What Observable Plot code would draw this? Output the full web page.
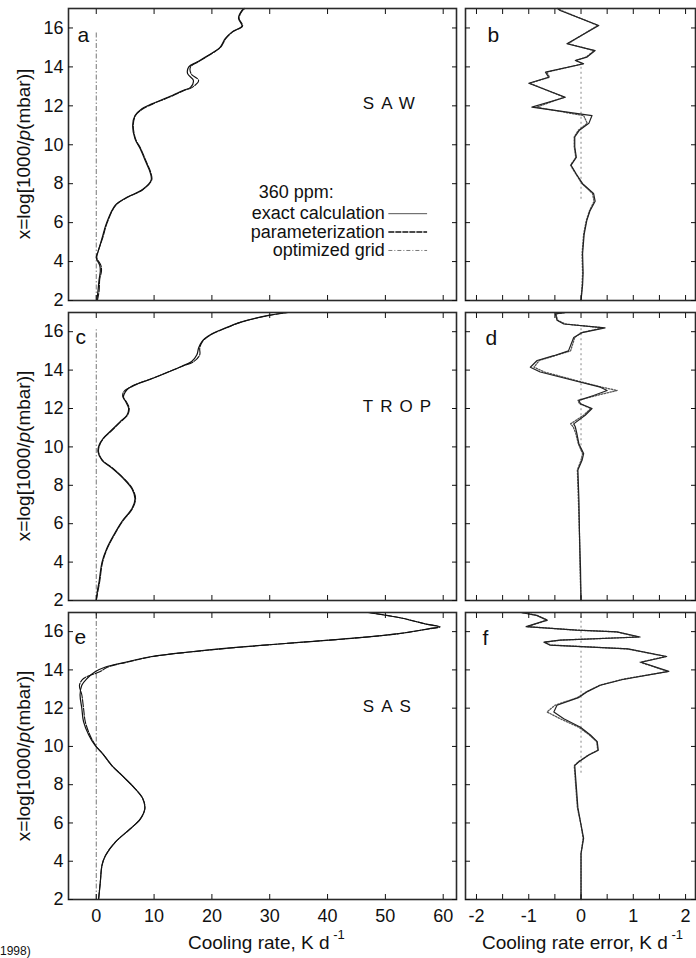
<!DOCTYPE html>
<html>
<head>
<meta charset="utf-8">
<script src="https://cdn.jsdelivr.net/npm/d3@7"></script>
<script src="https://cdn.jsdelivr.net/npm/@observablehq/plot@0.6"></script>
<style>
html, body { margin: 0; padding: 0; background: #fff; }
#fig { position: relative; width: 696px; height: 958px; overflow: hidden;
  font-family: "Liberation Sans", Arial, Helvetica, sans-serif; color: #111; }
#fig svg { position: absolute; }
.ylab { position: absolute; font-size: 19px; white-space: nowrap; line-height: 19px;
  transform: translate(-50%, -50%) rotate(-90deg); }
.xlab { position: absolute; font-size: 19px; white-space: nowrap; line-height: 19px; }
.xlab .sup { font-size: 13px; position: relative; top: -10px; }
.frag { position: absolute; font-size: 12px; white-space: nowrap; line-height: 12px; }
</style>
</head>
<body>
<div id="fig"></div>
<script>
// ---------------- data ----------------
const yTicks = [2, 4, 6, 8, 10, 12, 14, 16];
const xTicksRate = [0, 10, 20, 30, 40, 50, 60];
const xTicksErr = [-2, -1.5, -1, -0.5, 0, 0.5, 1, 1.5, 2];

const panelLetters = ["a", "b", "c", "d", "e", "f"];
const siteNames = ["SAW", "TROP", "SAS"];
const legendTitle = "360 ppm:";
const legendLabels = ["exact calculation", "parameterization", "optimized grid"];
const rateTitle = "Cooling rate, K d";
const errTitle = "Cooling rate error, K d";
const yTitle = "x=log[1000/<i>p</i>(mbar)]";

// panel a (SAW) cooling rate
const levA = [2.0, 2.5, 3.1, 3.5, 3.8, 4.2, 4.5, 5.2, 6.0, 6.9, 7.3, 7.7, 8.2, 8.6, 9.1, 9.8, 10.3, 11.0, 11.5, 11.85, 12.1, 12.45, 12.8, 12.95, 13.3, 13.65, 14.0, 14.25, 14.6, 15.0, 15.45, 15.8, 16.1, 16.5, 16.9, 17.0];
const exactA = [0.1, 0.3, 0.5, 0.7, 0.6, 0.0, 0.3, 1.0, 1.8, 3.3, 5.3, 8.0, 9.5, 9.3, 8.6, 7.6, 6.7, 6.3, 6.7, 7.9, 9.6, 12.5, 15.1, 16.3, 16.8, 15.8, 16.0, 17.4, 19.4, 21.4, 22.3, 23.5, 25.2, 24.6, 25.2, 25.6];
const paramA = [0.2, 0.5, 0.6, 0.9, 0.8, 0.1, 0.3, 1.1, 1.9, 3.4, 5.4, 8.1, 9.6, 9.4, 8.7, 7.7, 6.8, 6.4, 6.8, 8.1, 9.8, 12.7, 15.3, 16.6, 17.7, 16.4, 16.3, 17.6, 19.5, 21.5, 22.4, 23.6, 25.3, 24.7, 25.3, 25.7];

// panel c (TROP) cooling rate
const levC = [2.0, 2.5, 3.0, 4.0, 4.7, 5.4, 6.1, 6.8, 7.3, 7.8, 8.35, 8.9, 9.3, 9.75, 10.1, 10.45, 10.8, 11.3, 11.65, 12.0, 12.35, 12.6, 12.85, 13.05, 13.3, 13.55, 13.9, 14.2, 14.45, 14.8, 15.15, 15.5, 15.85, 16.15, 16.5, 16.85, 17.0];
const exactC = [0.0, 0.2, 0.5, 1.0, 1.8, 3.0, 4.4, 6.2, 6.7, 6.2, 4.7, 2.7, 1.0, 0.3, 0.5, 1.2, 2.4, 4.1, 5.3, 5.6, 5.1, 4.7, 5.0, 5.6, 7.3, 9.6, 12.5, 14.8, 16.5, 17.4, 17.7, 18.3, 19.8, 22.0, 25.0, 29.8, 33.0];
const paramC = [0.0, 0.3, 0.6, 1.1, 1.9, 3.1, 4.5, 6.3, 6.8, 6.3, 4.8, 2.8, 1.1, 0.4, 0.6, 1.3, 2.5, 4.2, 5.4, 5.7, 5.2, 4.6, 4.7, 5.5, 7.2, 9.5, 12.4, 14.9, 16.9, 17.9, 17.9, 18.4, 19.9, 22.1, 25.1, 29.9, 33.2];

// panel e (SAS) cooling rate
const levE = [2.0, 2.9, 3.8, 4.3, 5.0, 5.7, 6.2, 6.75, 7.3, 7.8, 8.5, 9.0, 9.55, 10.05, 10.6, 11.3, 12.0, 12.7, 13.2, 13.55, 13.9, 14.15, 14.4, 14.7, 14.95, 15.2, 15.45, 15.7, 15.9, 16.15, 16.25, 16.4, 16.7, 17.0];
const exactE = [0.4, 0.7, 1.0, 1.6, 3.3, 5.9, 7.6, 8.4, 8.0, 6.7, 4.4, 2.7, 1.3, -0.2, -1.3, -2.2, -2.5, -2.8, -2.5, -1.6, -0.2, 1.6, 5.0, 9.6, 16.5, 25.2, 35.6, 46.0, 52.3, 57.5, 59.2, 56.9, 52.9, 47.0];
const paramE = [0.4, 0.7, 1.0, 1.6, 3.3, 5.9, 7.6, 8.4, 8.0, 6.7, 4.4, 2.7, 1.3, -0.1, -1.1, -1.9, -2.2, -2.5, -2.9, -2.2, 0.6, 2.0, 5.3, 9.8, 16.7, 25.4, 35.8, 46.2, 52.5, 57.7, 59.5, 57.0, 53.0, 47.2];

// panel b (SAW) error
const levB = [2.0, 2.8, 3.4, 4.4, 5.4, 6.1, 6.6, 7.1, 7.5, 8.0, 8.5, 8.95, 9.35, 9.9, 10.4, 10.75, 11.1, 11.5, 11.93, 12.44, 13.16, 13.47, 13.73, 14.16, 14.33, 14.5, 14.84, 15.19, 16.13, 16.9, 17.0];
const errB = [0.0, 0.03, 0.04, 0.03, 0.06, 0.11, 0.17, 0.27, 0.24, 0.03, -0.09, -0.19, -0.09, -0.12, -0.12, -0.03, 0.15, 0.21, -0.94, -0.3, -1.0, -0.62, -0.68, 0.05, -0.11, 0.11, 0.27, -0.27, 0.34, -0.4, -0.45];
const gridB = [0.0, 0.02, 0.03, 0.02, 0.05, 0.1, 0.16, 0.25, 0.22, 0.02, -0.1, -0.2, -0.1, -0.13, -0.13, -0.05, 0.12, 0.05, -0.85, -0.32, -0.98, -0.6, -0.66, 0.04, -0.1, 0.1, 0.25, -0.25, 0.32, -0.38, -0.44];

// panel d (TROP) error
const levD = [2.0, 3.7, 5.5, 7.2, 8.8, 9.3, 9.65, 10.15, 10.7, 11.05, 11.2, 11.65, 12.0, 12.25, 12.42, 12.68, 12.94, 13.11, 13.46, 13.9, 14.15, 14.5, 14.75, 15.0, 15.7, 15.95, 16.2, 16.4, 16.6, 16.93, 17.0];
const errD = [0.0, -0.01, -0.03, -0.04, -0.06, 0.02, 0.05, -0.04, -0.08, -0.11, -0.14, 0.08, 0.21, -0.01, -0.04, 0.24, 0.5, 0.37, -0.14, -0.78, -0.97, -0.84, -0.52, -0.24, -0.14, 0.02, 0.46, -0.33, -0.46, -0.49, -0.3];
const gridD = [0.0, -0.02, -0.03, -0.05, -0.07, 0.0, 0.03, -0.05, -0.1, -0.15, -0.2, 0.05, 0.19, -0.03, -0.06, 0.3, 0.69, 0.4, -0.1, -0.7, -0.9, -0.8, -0.5, -0.2, -0.12, 0.0, 0.42, -0.3, -0.45, -0.48, -0.3];

// panel f (SAS) error
const levF = [2.0, 3.6, 4.4, 5.2, 5.9, 6.8, 7.9, 9.0, 9.2, 9.55, 9.8, 10.25, 10.6, 11.0, 11.45, 11.8, 12.15, 12.55, 12.85, 13.2, 13.5, 13.92, 14.4, 14.7, 15.1, 15.3, 15.45, 15.56, 15.72, 15.99, 16.08, 16.26, 16.6, 16.85, 17.0];
const errF = [0.0, 0.0, 0.0, 0.05, 0.0, -0.06, -0.09, -0.12, -0.04, 0.15, 0.33, 0.31, 0.18, -0.01, -0.33, -0.52, -0.46, -0.05, 0.11, 0.37, 0.8, 1.68, 1.15, 1.64, 0.9, -0.6, -0.71, -0.4, 1.13, 0.69, -0.08, -1.05, -0.65, -0.85, -1.15];
const gridF = [0.0, 0.0, 0.0, 0.04, 0.0, -0.07, -0.1, -0.13, -0.05, 0.14, 0.32, 0.3, 0.16, -0.04, -0.4, -0.65, -0.5, -0.07, 0.1, 0.36, 0.78, 1.66, 1.13, 1.62, 0.88, -0.58, -0.69, -0.38, 1.1, 0.67, -0.1, -1.03, -0.64, -0.84, -1.13];

// extents of the zero reference lines
const zeroTopRate = [15.8, 16.1, 17.0];
const zeroSpanErr = [[7.2, 14.2], [9.8, 16.2], [8.6, 16.9]];

// ---------------- drawing ----------------
const fig = document.getElementById("fig");
const FONT = '"Liberation Sans", Arial, Helvetica, sans-serif';
const rows = [
  {top: 0, height: 306, mt: 8, mb: 6, yc: 154},
  {top: 306, height: 300, mt: 6, mb: 6, yc: 456},
  {top: 606, height: 352, mt: 6, mb: 59, yc: 755.5}
];
const rateDomain = [-4.8, 62.3];
const errDomain = [-2.21, 2.19];

function toRows(lev, vals) { return lev.map((y, i) => ({y, v: vals[i]})); }

function panel({left, width, ml, mr, row, xDomain, xTicks, xFormat, showX, showY, marks}) {
  const svg = Plot.plot({
    width, height: row.height,
    marginLeft: ml, marginRight: mr, marginTop: row.mt, marginBottom: row.mb,
    x: {domain: xDomain, axis: null},
    y: {domain: [2, 17], axis: null},
    style: {fontFamily: FONT, fontSize: "18px", background: "transparent", color: "#111", overflow: "visible"},
    marks: [
      ...marks,
      Plot.frame({stroke: "#2a2a2a", strokeWidth: 1.6}),
      Plot.axisY(yTicks, {anchor: "left", tickSize: -5, tickPadding: 10, label: null,
        tickFormat: showY ? d => String(d) : () => ""}),
      Plot.axisY(yTicks, {anchor: "right", tickSize: -5, label: null, tickFormat: () => ""}),
      Plot.axisX(xTicks, {anchor: "bottom", tickSize: -5, tickPadding: 15, label: null,
        tickFormat: showX ? xFormat : () => ""}),
      Plot.axisX(xTicks, {anchor: "top", tickSize: -5, label: null, tickFormat: () => ""})
    ]
  });
  svg.style.left = left + "px";
  svg.style.top = row.top + "px";
  d3.select(svg).selectAll("text")
    .filter(function () { return siteNames.includes(this.textContent); })
    .attr("letter-spacing", "7px");
  fig.appendChild(svg);
}

const rateSets = [[levA, exactA, paramA], [levC, exactC, paramC], [levE, exactE, paramE]];
const errSets = [[levB, errB, gridB], [levD, errD, gridD], [levF, errF, gridF]];
const letterOffLeft = [[9, 27], [7, 25], [6, 25]];
const letterOffRight = [[22, 27], [20, 26], [17, 26]];

rows.forEach((row, r) => {
  const [lev, ex, pa] = rateSets[r];
  const leftMarks = [
    Plot.ruleX([0], {y1: 2, y2: zeroTopRate[r], stroke: "#777", strokeWidth: 1, strokeDasharray: "5,2,1.5,2"}),
    Plot.line(toRows(lev, ex), {x: "v", y: "y", stroke: "#111", strokeWidth: 1.2, curve: "catmull-rom"}),
    Plot.line(toRows(lev, pa), {x: "v", y: "y", stroke: "#111", strokeWidth: 1.1, strokeDasharray: "7,1.5", curve: "catmull-rom"}),
    Plot.text([panelLetters[2 * r]], {frameAnchor: "top-left", dx: letterOffLeft[r][0], dy: letterOffLeft[r][1],
      text: d => d, textAnchor: "start", lineAnchor: "middle", fontSize: 21}),
    Plot.text([siteNames[r]], {x: () => 46.1, y: () => 12.1, text: d => d, textAnchor: "start",
      lineAnchor: "middle", fontSize: 17})
  ];
  if (r === 0) {
    leftMarks.push(
      Plot.text([legendTitle], {x: () => 28.1, y: () => 7.57, text: d => d, textAnchor: "start", lineAnchor: "middle", fontSize: 18}),
      Plot.text(legendLabels, {x: () => 49.9, y: (d, i) => 6.46 - i * 0.945, text: d => d, textAnchor: "end", lineAnchor: "middle", fontSize: 18}),
      Plot.ruleY([legendLabels[0]], {x1: 50.6, x2: 57.3, y: () => 6.46, stroke: "#555", strokeWidth: 1}),
      Plot.ruleY([legendLabels[1]], {x1: 50.6, x2: 57.3, y: () => 6.46 - 0.945, stroke: "#111", strokeWidth: 1.5, strokeDasharray: "6,1"}),
      Plot.ruleY([legendLabels[2]], {x1: 50.6, x2: 57.3, y: () => 6.46 - 2 * 0.945, stroke: "#777", strokeWidth: 1, strokeDasharray: "4,2,1,2"})
    );
  }
  panel({left: 0, width: 460, ml: 68, mr: 4, row, xDomain: rateDomain, xTicks: xTicksRate,
    xFormat: d => String(d), showX: r === 2, showY: true, marks: leftMarks});

  const [levr, er, gr] = errSets[r];
  const rightMarks = [
    Plot.ruleX([0], {y1: zeroSpanErr[r][0], y2: zeroSpanErr[r][1], stroke: "#888", strokeWidth: 1, strokeDasharray: "2,3"}),
    Plot.line(toRows(levr, gr), {x: "v", y: "y", stroke: "#555", strokeWidth: 1.3, strokeDasharray: "1.5,1.5"}),
    Plot.line(toRows(levr, er), {x: "v", y: "y", stroke: "#222", strokeWidth: 1.2}),
    Plot.text([panelLetters[2 * r + 1]], {frameAnchor: "top-left", dx: letterOffRight[r][0], dy: letterOffRight[r][1],
      text: d => d, textAnchor: "start", lineAnchor: "middle", fontSize: 21})
  ];
  panel({left: 461, width: 235, ml: 4, mr: 1, row, xDomain: errDomain, xTicks: xTicksErr,
    xFormat: d => Number.isInteger(d) ? String(d) : "", showX: r === 2, showY: false, marks: rightMarks});

  const yl = document.createElement("div");
  yl.className = "ylab";
  yl.style.left = "23px";
  yl.style.top = row.yc + "px";
  yl.innerHTML = yTitle;
  fig.appendChild(yl);
});

function addXTitle(text, left) {
  const d = document.createElement("div");
  d.className = "xlab";
  d.style.left = left + "px";
  d.style.top = "933px";
  d.innerHTML = text + '<span class="sup"> -1</span>';
  fig.appendChild(d);
}
addXTitle(rateTitle, 188);
addXTitle(errTitle, 482);

const frag = document.createElement("div");
frag.className = "frag";
frag.style.left = "0px";
frag.style.top = "945px";
frag.textContent = "1998)";
fig.appendChild(frag);
</script>
</body>
</html>
